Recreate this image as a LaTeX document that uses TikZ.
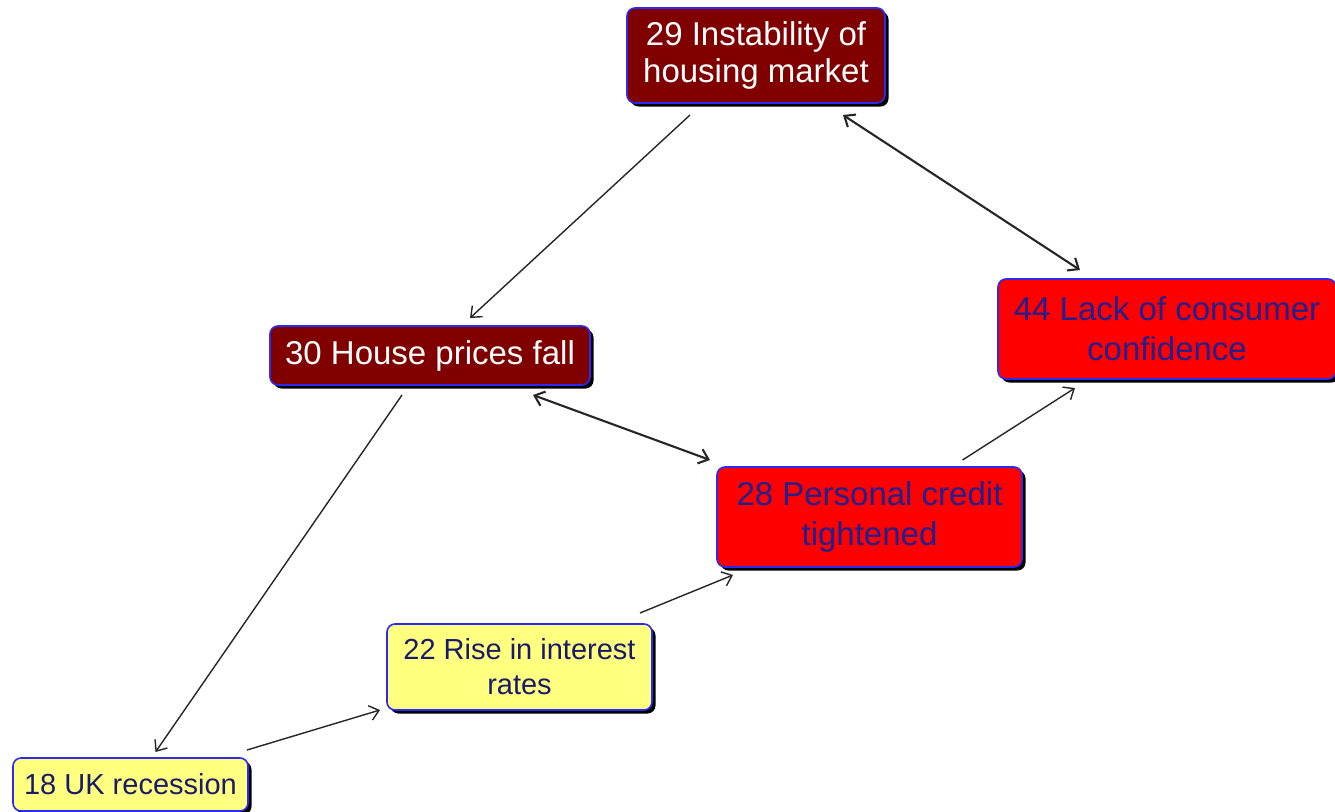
\documentclass[tikz,border=0pt]{standalone}
\usepackage{fontspec}
\setmainfont{Liberation Sans}
\usetikzlibrary{arrows.meta,shadows}
\definecolor{maroonfill}{HTML}{800000}
\definecolor{redfill}{HTML}{FF0000}
\definecolor{yellowfill}{HTML}{FFFF80}
\definecolor{edgeblue}{HTML}{2A2AF0}
\definecolor{navytext}{HTML}{20208F}
\definecolor{darknavy}{HTML}{1A1A6A}
\tikzset{
  box/.style={draw=edgeblue, line width=1.6pt, rounded corners=8pt, align=center,
    inner sep=0pt, outer sep=0pt,
    drop shadow={shadow xshift=3.5pt, shadow yshift=-3.5pt, fill=black, opacity=1}},
  darkbox/.style={box, fill=maroonfill, text=white, font=\fontsize{33}{37}\selectfont},
  redbox/.style={box, fill=redfill, text=navytext, font=\fontsize{33}{40}\selectfont},
  yellowbox/.style={box, fill=yellowfill, text=darknavy, font=\fontsize{29}{35}\selectfont},
  link/.style={draw=black!85, line width=1.4pt, -{Straight Barb[length=9pt,width=15pt]}},
  twoway/.style={draw=black!85, line width=2.1pt, {Straight Barb[length=9pt,width=15pt]}-{Straight Barb[length=9pt,width=15pt]}}
}
\begin{document}
\begin{tikzpicture}[x=1pt,y=-1pt]
\useasboundingbox (0,0) rectangle (1335,811);
\clip (0,0) rectangle (1335,811);
\fill[white] (0,0) rectangle (1335,811);

% cause boxes
\node[darkbox, minimum width=258pt, minimum height=95pt] (n29) at (756,55.5) {29 Instability of\\housing market};
\node[darkbox, minimum width=320pt, minimum height=59pt] (n30) at (430,355.5) {30 House prices fall};
\node[redbox, minimum width=338pt, minimum height=100pt] (n44) at (1167,329) {44 Lack of consumer\\confidence};
\node[redbox, minimum width=305pt, minimum height=100pt] (n28) at (869.5,517) {28 Personal credit\\tightened};
\node[yellowbox, minimum width=265pt, minimum height=86pt] (n22) at (519.5,667) {22 Rise in interest\\rates};
\node[yellowbox, minimum width=235pt, minimum height=53pt] (n18) at (130.5,784.5) {18 UK recession};

% links between causes
\draw[link] ([xshift=-66pt,yshift=-12pt]n29.south) -- ([xshift=40pt,yshift=8pt]n30.north);
\draw[twoway] ([xshift=-42pt,yshift=-12pt]n29.south east) -- ([xshift=-87pt,yshift=9pt]n44.north);
\draw[twoway] ([xshift=103pt,yshift=-10pt]n30.south) -- ([xshift=-7pt,yshift=7pt]n28.north west);
\draw[link] ([xshift=-28pt,yshift=-10pt]n30.south) -- ([xshift=25pt,yshift=6pt]n18.north);
\draw[link] ([xshift=-1pt,yshift=8pt]n18.north east) -- ([xshift=-7pt,yshift=0pt]n22.south west);
\draw[link] ([xshift=-12pt,yshift=11pt]n22.north east) -- ([xshift=16pt,yshift=-8pt]n28.south west);
\draw[link] ([xshift=93pt,yshift=7pt]n28.north) -- ([xshift=-92pt,yshift=-9pt]n44.south);
\end{tikzpicture}
\end{document}
